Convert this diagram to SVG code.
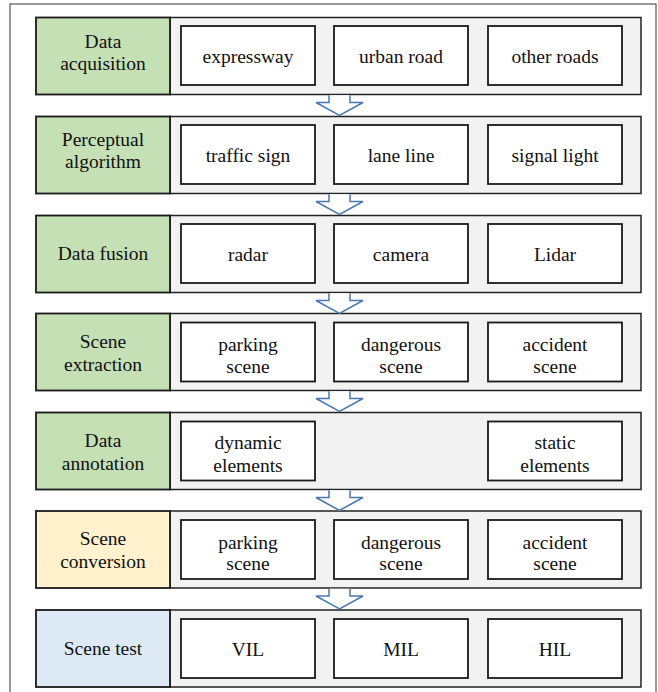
<svg xmlns="http://www.w3.org/2000/svg" width="658" height="692" viewBox="0 0 658 692">
<style>
text{font-family:'Liberation Serif','Times New Roman',Tinos,'DejaVu Serif',serif;font-size:19.5px;fill:#111;text-anchor:middle}
.frame{fill:#fff;stroke:#555;stroke-width:1.2}
.panel{fill:#f2f2f2;stroke:#222;stroke-width:1.5}
.lbl{stroke:#1a1a1a;stroke-width:1.8}
.g{fill:#c5e0b4}.y{fill:#fff2cc}.b{fill:#dde9f5}
.box{fill:#fff;stroke:#1a1a1a;stroke-width:1.8}
.arr{fill:#fff;stroke:#4a78ae;stroke-width:1.5;stroke-linejoin:miter}
</style>
<rect class="frame" x="10" y="4" width="646" height="700"/>

<g id="row1" transform="translate(0,17.5)">
<rect class="panel" x="170" y="0" width="471" height="77"/>
<rect class="lbl g" x="36" y="0" width="134" height="77"/>
<text x="103" y="30">Data</text><text x="103" y="52.5">acquisition</text>
<rect class="box" x="181" y="8.5" width="134" height="59"/><text x="248" y="45">expressway</text>
<rect class="box" x="334" y="8.5" width="134" height="59"/><text x="401" y="45">urban road</text>
<rect class="box" x="488" y="8.5" width="134" height="59"/><text x="555" y="45">other roads</text>
</g>

<g id="row2" transform="translate(0,116.5)">
<rect class="panel" x="170" y="0" width="471" height="77"/>
<rect class="lbl g" x="36" y="0" width="134" height="77"/>
<text x="103" y="29.5">Perceptual</text><text x="103" y="51">algorithm</text>
<rect class="box" x="181" y="8.5" width="134" height="59"/><text x="248" y="45">traffic sign</text>
<rect class="box" x="334" y="8.5" width="134" height="59"/><text x="401" y="45">lane line</text>
<rect class="box" x="488" y="8.5" width="134" height="59"/><text x="555" y="45">signal light</text>
</g>

<g id="row3" transform="translate(0,215.5)">
<rect class="panel" x="170" y="0" width="471" height="77"/>
<rect class="lbl g" x="36" y="0" width="134" height="77"/>
<text x="103" y="44.5">Data fusion</text>
<rect class="box" x="181" y="8.5" width="134" height="59"/><text x="248" y="45">radar</text>
<rect class="box" x="334" y="8.5" width="134" height="59"/><text x="401" y="45">camera</text>
<rect class="box" x="488" y="8.5" width="134" height="59"/><text x="555" y="45">Lidar</text>
</g>

<g id="row4" transform="translate(0,313.5)">
<rect class="panel" x="170" y="0" width="471" height="77"/>
<rect class="lbl g" x="36" y="0" width="134" height="77"/>
<text x="103" y="34">Scene</text><text x="103" y="57">extraction</text>
<rect class="box" x="181" y="9" width="134" height="59"/><text x="248" y="37.5">parking</text><text x="248" y="59">scene</text>
<rect class="box" x="334" y="9" width="134" height="59"/><text x="401" y="37.5">dangerous</text><text x="401" y="59">scene</text>
<rect class="box" x="488" y="9" width="134" height="59"/><text x="555" y="37.5">accident</text><text x="555" y="59">scene</text>
</g>

<g id="row5" transform="translate(0,412.5)">
<rect class="panel" x="170" y="0" width="471" height="77"/>
<rect class="lbl g" x="36" y="0" width="134" height="77"/>
<text x="103" y="34.5">Data</text><text x="103" y="57">annotation</text>
<rect class="box" x="181" y="9" width="134" height="59"/><text x="248" y="36.5">dynamic</text><text x="248" y="59">elements</text>
<rect class="box" x="488" y="9" width="134" height="59"/><text x="555" y="36.5">static</text><text x="555" y="59">elements</text>
</g>

<g id="row6" transform="translate(0,511)">
<rect class="panel" x="170" y="0" width="471" height="77"/>
<rect class="lbl y" x="36" y="0" width="134" height="77"/>
<text x="103" y="34">Scene</text><text x="103" y="57">conversion</text>
<rect class="box" x="181" y="9" width="134" height="59"/><text x="248" y="37.5">parking</text><text x="248" y="59">scene</text>
<rect class="box" x="334" y="9" width="134" height="59"/><text x="401" y="37.5">dangerous</text><text x="401" y="59">scene</text>
<rect class="box" x="488" y="9" width="134" height="59"/><text x="555" y="37.5">accident</text><text x="555" y="59">scene</text>
</g>

<g id="row7" transform="translate(0,610)">
<rect class="panel" x="170" y="0" width="471" height="77"/>
<rect class="lbl b" x="36" y="0" width="134" height="77"/>
<text x="103" y="45">Scene test</text>
<rect class="box" x="181" y="9" width="134" height="59"/><text x="248" y="46">VIL</text>
<rect class="box" x="334" y="9" width="134" height="59"/><text x="401" y="46">MIL</text>
<rect class="box" x="488" y="9" width="134" height="59"/><text x="555" y="46">HIL</text>
</g>

<g id="connectors">
<defs><path id="ar" class="arr" d="M329,0.8 V8 H316 L339.5,21 L363,8 H350 V0.8"/></defs>
<use href="#ar" transform="translate(0,94.5)"/>
<use href="#ar" transform="translate(0,193.5)"/>
<use href="#ar" transform="translate(0,292.5)"/>
<use href="#ar" transform="translate(0,390.5)"/>
<use href="#ar" transform="translate(0,489.5)"/>
<use href="#ar" transform="translate(0,588)"/>
</g>
</svg>
